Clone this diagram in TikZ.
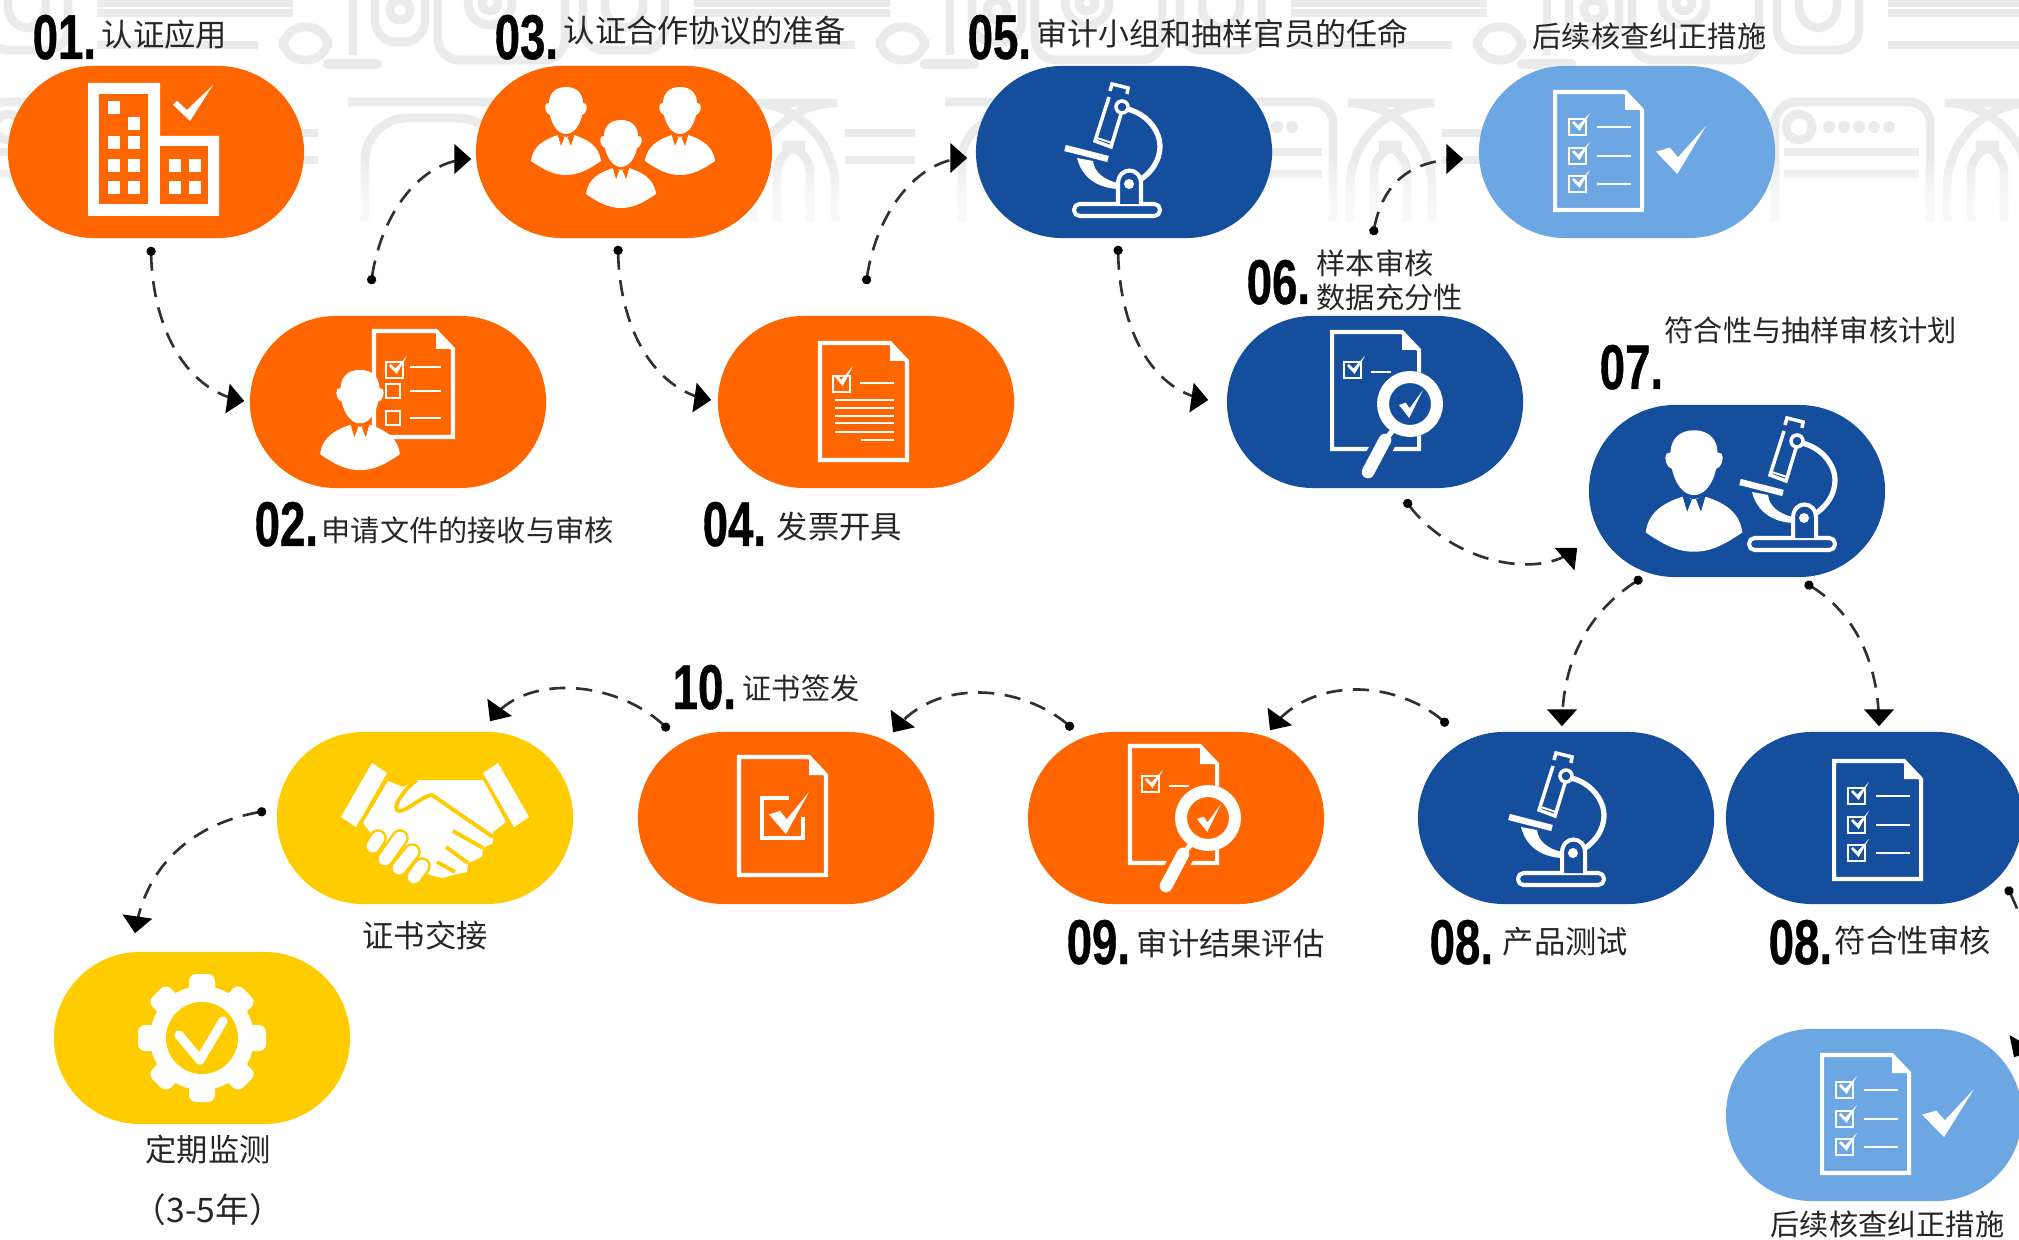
\documentclass[tikz,border=0pt]{standalone}
\usepackage{fontspec}
\setmainfont{Noto Sans CJK SC}
\newfontfamily\cjk{Noto Sans CJK SC}
\newfontfamily\numfont[FakeStretch=0.72,FakeBold=0.6]{Liberation Sans}
\usetikzlibrary{arrows.meta,bending}
\definecolor{pillorange}{HTML}{FF6600}
\definecolor{pillblue}{HTML}{164E9E}
\definecolor{pillsky}{HTML}{6CA6E3}
\definecolor{pillyellow}{HTML}{FFCC00}
\definecolor{washgrey}{HTML}{EBEBEB}
\definecolor{flowgrey}{HTML}{352E2E}
\tikzset{
	pill/.style={rectangle,rounded corners=0.86cm,minimum width=2.96cm,minimum height=1.72cm,inner sep=0pt},
	icon/.style={draw=white,line width=1.15pt,line join=miter},
	hair/.style={draw=white,line width=0.55pt},
	wash/.style={draw=washgrey,line width=2.5pt,rounded corners=6pt},
	flow/.style={draw=flowgrey,line width=0.75pt,dash pattern=on 4.6pt off 3pt,{Circle[length=2.6pt,black]}-{Triangle[length=4.8pt,width=8.4pt,black,flex=0]}},
	numlabel/.style={anchor=base west,inner sep=0pt,font=\numfont\bfseries\fontsize{18}{18}\selectfont},
	txtlabel/.style={anchor=west,inner sep=0pt,text height=7.7pt,text depth=1pt,text=black!85,font=\cjk\fontsize{8.3}{10}\selectfont},
	txtlarge/.style={txtlabel,font=\cjk\fontsize{8.9}{10}\selectfont},
	midlabel/.style={txtlarge,anchor=center}
}
\newcommand{\tickmark}[4]{\fill[white,shift={(#1,#2)},xscale=#3,yscale=#4] (-1,0.1) -- (-0.8,-0.12) -- (-0.3,0.39) -- (1,-1) -- (-0.15,1) -- cycle;}
\newcommand{\bigtick}[4]{\fill[white,shift={(#1,#2)},xscale=#3,yscale=#4] (-1,0.07) -- (-0.45,-0.1) -- (-0.12,0.3) -- (1,-1) -- (-0.15,1) -- cycle;}
\newcommand{\tickbox}[2]{\draw[hair,line width=0.7pt] (#1,#2) rectangle +(17,16); \tickmark{#1+12}{#2+3}{9}{9}}
\newcommand{\pagebox}[2]{\draw[icon] (0,0) -- (#1-17,0) -- (#1,18) -- (#1,#2) -- (0,#2) -- cycle; \fill[white] (#1-17,0) -- (#1,18) -- (#1-17,18) -- cycle;}
\newcommand{\checklist}[2]{\begin{scope}[shift={(#1,#2)}]
	\pagebox{87}{118}
	\foreach \yy in {27,56,84} {\tickbox{14}{\yy} \draw[hair,line width=0.7pt] (42,\yy+8) -- (76,\yy+8);}
\end{scope}}
\newcommand{\magdoc}[3]{\begin{scope}[shift={(#1,#2)}]
	\pagebox{87}{117}
	\tickbox{12}{30}
	\draw[hair,line width=0.7pt] (39,40) -- (59,40);
	\fill[#3] (78,72) circle (33);
	\draw[#3,line width=6.5pt] (56,103) -- (43,128);
	\draw[white,line width=3.4pt] (78,72) circle (27);
	\draw[white,line width=1.5pt] (62,97) -- (53,108);
	\draw[white,line width=3.6pt,line cap=round] (53,108) -- (36,140);
	\bigtick{79}{72}{12}{14}
\end{scope}}
\newcommand{\personicon}[4]{\begin{scope}[shift={(#1,#2)},scale=#3]
	\fill[white] (0,-44) .. controls (12,-44) and (17,-36) .. (17,-28) -- (20,-27) .. controls (22,-24) and (20,-17) .. (16,-16) .. controls (14,-6) and (8,3) .. (0,3) .. controls (-8,3) and (-14,-6) .. (-16,-16) .. controls (-20,-17) and (-22,-24) .. (-20,-27) -- (-17,-28) .. controls (-17,-36) and (-12,-44) .. (0,-44) -- cycle;
	\fill[white] (-35,30) .. controls (-33,14) and (-20,8) .. (-8,4) -- (0,6) -- (8,4) .. controls (20,8) and (33,14) .. (35,30) .. controls (22,39) and (12,44) .. (0,44) .. controls (-12,44) and (-22,39) .. (-35,30) -- cycle;
	\fill[#4] (-8.5,3) -- (-5,15) -- (-1.5,6) -- cycle;
	\fill[#4] (8.5,3) -- (5,15) -- (1.5,6) -- cycle;
\end{scope}}
\newcommand{\microscope}[3]{\begin{scope}[shift={(#1,#2)}]
	\draw[icon,line join=round,rounded corners=1.6pt] (-50,52) -- (36,52) -- (36,64) -- (-50,64) -- cycle;
	\draw[icon,line width=1pt] (-15,-55) -- (-29,-11) -- (-13,-5) -- (-3,-38);
	\draw[icon,line width=1pt] (-14,-61) -- (-12,-68) -- (4,-64) -- (3,-58);
	\draw[hair] (-27,-14) -- (-12,-9);
	\draw[icon,line width=1.5pt] (3,-43) .. controls (24,-38) and (36,-20) .. (36,-6) .. controls (36,8) and (28,20) .. (16,28);
	\draw[white,line width=1.8pt] (-59,-4) -- (-16,7);
	\fill[white] (-47,6) -- (-31,9) .. controls (-30,20) and (-20,28) .. (-6,31) -- (-6,37) .. controls (-26,36) and (-42,26) .. (-47,6) -- cycle;
	\fill[#3] (-6,52) -- (-6,32) .. controls (-6,14) and (17,14) .. (17,32) -- (17,52) -- cycle;
	\draw[icon] (-6,52) -- (-6,32) .. controls (-6,14) and (17,14) .. (17,32) -- (17,52);
	\fill[white] (5,32) circle (5);
	\fill[#3] (-2,-45) circle (7);
	\draw[icon,line width=1pt] (-2,-45) circle (6);
\end{scope}}
\newcommand{\washmotif}[1]{\begin{scope}[shift={(#1,0)}]
	\draw[wash,rounded corners=0pt] (28,-5) -- (28,55);
	\draw[wash,line cap=round,line width=3pt] (3,64) -- (52,64);
	\draw[wash] (50,-5) -- (50,42) -- (100,42) -- (100,-5);
	\draw[wash] (75,10) circle (10);
	\draw[wash] (113,-5) -- (113,60) -- (240,60) -- (240,-5);
	\draw[wash] (165,3) circle (22);
	\draw[wash] (165,3) circle (8);
	\draw[wash] (258,-5) -- (258,50) -- (340,50) -- (340,-5);
	\draw[wash] (280,-5) -- (280,28) -- (318,28) -- (318,-5);
	\draw[wash,rounded corners=0pt] (369,3) -- (565,3) (369,13) -- (565,13) (369,45) -- (530,45);
	\draw[wash] (555,27) rectangle (600,60);
	\draw[wash,rounded corners=12pt] (23,102) -- (170,102) (40,222) -- (40,118) -- (175,118) -- (175,222);
	\draw[wash,rounded corners=0pt] (190,125) -- (190,222);
	\draw[wash] (256,222) -- (256,102) -- (411,102) -- (411,222);
	\draw[wash] (280,127) circle (13);
	\foreach \dd in {310,325,340,355,370} {\fill[washgrey] (\dd,127) circle (6);}
	\draw[wash,rounded corners=0pt] (265,152) -- (400,152) (265,174) -- (400,174);
	\draw[wash,rounded corners=24pt] (428,222) -- (428,103) -- (510,103) -- (510,222);
	\draw[wash,rounded corners=8pt] (452,222) -- (452,145) -- (485,145) -- (485,222);
	\draw[wash,rounded corners=0pt] (520,160) -- (590,160) (520,133) -- (590,133);
\end{scope}}
\begin{document}
\begin{tikzpicture}[x=0.01cm,y=-0.01cm]
\useasboundingbox (0,0) rectangle (2019,1240);
\clip (0,0) rectangle (2019,1240);
\foreach \xx in {-272,325,922,1519} {\washmotif{\xx}}
\foreach \k in {0,...,6} {\fill[white,opacity=0.22] (-5,165+\k*9) rectangle (2024,222);}
\fill[white] (-5,222) rectangle (2024,240);

\node[pill,fill=pillorange] (n01) at (156,152) {};
\node[pill,fill=pillorange] (n02) at (398,402) {};
\node[pill,fill=pillorange] (n03) at (624,152) {};
\node[pill,fill=pillorange] (n04) at (866,402) {};
\node[pill,fill=pillblue] (n05) at (1124,152) {};
\node[pill,fill=pillblue] (n06) at (1375,402) {};
\node[pill,fill=pillblue] (n07) at (1737,491) {};
\node[pill,fill=pillsky] (fix1) at (1627,152) {};
\node[pill,fill=pillblue] (n08a) at (1566,818) {};
\node[pill,fill=pillblue] (n08b) at (1874,818) {};
\node[pill,fill=pillsky] (fix2) at (1874,1115) {};
\node[pill,fill=pillorange] (n09) at (1176,818) {};
\node[pill,fill=pillorange] (n10) at (786,818) {};
\node[pill,fill=pillyellow] (hand) at (425,818) {};
\node[pill,fill=pillyellow] (gear) at (202,1038) {};

\draw[flow] ([shift={(-5,8)}]n01.south) .. controls +(0,85) and +(-55,-8) .. ([shift={(-5,-1)}]n02.west);
\draw[flow] ([shift={(-27,-31)}]n02.north) .. controls +(8,-70) and +(-50,0) .. ([shift={(-4,7)}]n03.west);
\draw[flow] ([shift={(-6,7)}]n03.south) .. controls +(0,85) and +(-55,-8) .. ([shift={(-6,-2)}]n04.west);
\draw[flow] ([shift={(0,-31)}]n04.north) .. controls +(8,-70) and +(-50,0) .. ([shift={(-8,6)}]n05.west);
\draw[flow] ([shift={(-6,7)}]n05.south) .. controls +(0,85) and +(-55,-8) .. ([shift={(-18,-2)}]n06.west);
\draw[flow] ([shift={(-2,-80)}]n06.north) .. controls +(8,-55) and +(-50,0) .. ([shift={(-15,7)}]fix1.west);
\draw[flow] ([shift={(30,11)}]n06.south) .. controls +(40,60) and +(-40,35) .. ([shift={(-11,57)}]n07.west);
\draw[flow] ([shift={(-95,0)}]n07.south) .. controls +(-50,30) and +(0,-70) .. ([shift={(-4,-5)}]n08a.north);
\draw[flow] ([shift={(68,5)}]n07.south) .. controls +(45,25) and +(0,-70) .. ([shift={(5,-5)}]n08b.north);
\draw[flow] ([shift={(133,-18)}]n08b.south) .. controls +(25,50) and +(35,-60) .. ([shift={(140,29)}]fix2.north);
\draw[flow] ([shift={(-118,-6)}]n08a.north) .. controls +(-48,-46) and +(40,-56) .. ([shift={(94,-1)}]n09.north);
\draw[flow] ([shift={(-103,-2)}]n09.north) .. controls +(-48,-46) and +(40,-56) .. ([shift={(107,1)}]n10.north);
\draw[flow] ([shift={(-117,-1)}]n10.north) .. controls +(-48,-50) and +(35,-50) .. ([shift={(65,-10)}]hand.north);
\draw[flow] ([shift={(-10,-7)}]hand.west) .. controls +(-70,10) and +(10,-70) .. ([shift={(-67,-18)}]gear.north);

\node[numlabel] (num01) at (32,59) {01.};
\node[txtlarge] (txt01) at (101,35) {认证应用};
\node[numlabel] (num02) at (254,546) {02.};
\node[txtlabel] (txt02) at (321,530) {申请文件的接收与审核};
\node[numlabel] (num03) at (494,59) {03.};
\node[txtlarge] (txt03) at (563,31) {认证合作协议的准备};
\node[numlabel] (num04) at (702,546) {04.};
\node[txtlarge] (txt04) at (776,527) {发票开具};
\node[numlabel] (num05) at (967,59) {05.};
\node[txtlabel,font=\cjk\fontsize{8.8}{10}\selectfont] (txt05) at (1036,34) {审计小组和抽样官员的任命};
\node[txtlabel] (txtfix1) at (1532,36) {后续核查纠正措施};
\node[numlabel] (num06) at (1246,304) {06.};
\node[anchor=west,inner sep=0pt,align=left,text=black!85,font=\cjk\fontsize{8.3}{9.7}\selectfont] (txt06) at (1316,280) {样本审核\\数据充分性};
\node[numlabel] (num07) at (1599,389) {07.};
\node[txtlabel] (txt07) at (1664,330) {符合性与抽样审核计划};
\node[numlabel] (num08a) at (1429,964) {08.};
\node[txtlarge] (txt08a) at (1502,942) {产品测试};
\node[numlabel] (num08b) at (1768,964) {08.};
\node[txtlarge] (txt08b) at (1834,941) {符合性审核};
\node[numlabel] (num09) at (1066,964) {09.};
\node[txtlarge] (txt09) at (1136,944) {审计结果评估};
\node[numlabel] (num10) at (672,709) {10.};
\node[txtlabel] (txt10) at (742,688) {证书签发};
\node[midlabel] (txthand) at (425,936) {证书交接};
\node[midlabel] (txtgear) at (208,1150) {定期监测};
\node[midlabel,font=\cjk\fontsize{9.6}{10}\selectfont] (txtterm) at (208,1211) {（3-5年）};
\node[txtlabel] (txtfix2) at (1770,1224) {后续核查纠正措施};

\begin{scope}
	\fill[white] (88,83) -- (160,83) -- (160,136) -- (219,136) -- (219,216) -- (88,216) -- cycle;
	\fill[pillorange] (99,94) rectangle (148,204);
	\fill[pillorange] (160,146) rectangle (208,204);
	\foreach \wx/\wy in {108/101,128/117,108/136,128/136,108/159,128/159,108/181,128/181,169/159,189/159,169/181,189/181} {\fill[white] (\wx,\wy) rectangle +(12,13);}
	\tickmark{193}{103}{20}{18}
\end{scope}
\begin{scope}[shift={(374,331)}]
	\pagebox{79}{106}
	\tickbox{12}{31}
	\draw[hair,line width=0.7pt] (36,36) -- (67,36) (36,60) -- (67,60) (36,87) -- (67,87);
	\draw[hair,line width=0.7pt] (12,53) rectangle +(14,14) (12,80) rectangle +(14,14);
\end{scope}
\personicon{360}{420}{1.14}{pillorange}
\personicon{566}{131}{1}{pillorange}
\personicon{680}{131}{1}{pillorange}
\personicon{621}{164}{1}{pillorange}
\begin{scope}[shift={(820,343)}]
	\pagebox{87}{117}
	\draw[hair,line width=0.7pt] (13,33) rectangle +(17,16);
	\tickmark{24}{33}{9}{10}
	\draw[hair,line width=0.7pt] (40,40) -- (74,40);
	\foreach \yy in {57,65,73,80,89} {\draw[hair] (15,\yy) -- (74,\yy);}
	\draw[hair] (41,97) -- (74,97);
\end{scope}
\microscope{1124}{152}{pillblue}
\magdoc{1332}{332}{pillblue}
\checklist{1555}{92}
\bigtick{1681}{150}{25}{24}
\personicon{1694}{491}{1.38}{pillblue}
\microscope{1799}{486}{pillblue}
\microscope{1568}{821}{pillblue}
\checklist{1834}{761}
\checklist{1822}{1055}
\bigtick{1948}{1113}{26}{24}
\magdoc{1130}{746}{pillorange}
\begin{scope}[shift={(739,757)}]
	\pagebox{87}{118}
	\draw[icon] (37,81) -- (23,81) -- (23,41) -- (50,41);
	\draw[icon] (23,81) -- (64,81) -- (64,60);
	\bigtick{50}{56}{20}{21}
\end{scope}
\begin{scope}
	\fill[white] (372,763) -- (387,773) -- (356,827) -- (341,817) -- cycle;
	\fill[white] (498,763) -- (529,817) -- (514,827) -- (483,773) -- cycle;
	\fill[white] (388,781) -- (403,787) -- (417,780) -- (483,780) -- (506,822) -- (493,832) -- (493,843) -- (483,848) -- (482,857) -- (468,863) -- (467,872) -- (453,875) -- (443,878) -- (430,875) -- (420,867) -- (370,832) -- (363,823) -- cycle;
	\foreach \ax/\ay/\bx/\by in {373/846/378/838,385/859/400/838,399/868/412/852,414/877/422/866} {
		\draw[pillyellow,line width=5pt,line cap=round] (\ax,\ay) -- (\bx,\by);
		\draw[white,line width=3.6pt,line cap=round] (\ax,\ay) -- (\bx,\by);
	}
	\draw[pillyellow,line width=1.1pt] (493,837) -- (432,795) .. controls (420,797) and (412,808) .. (400,811) .. controls (395,812) and (395,805) .. (400,798) .. controls (405,790) and (410,785) .. (417,780);
	\draw[pillyellow,line width=1.1pt] (453,831) -- (483,848) (446,847) -- (468,863) (437,862) -- (455,872);
\end{scope}
\begin{scope}[shift={(202,1038)}]
	\foreach \a in {0,45,...,315} {\fill[white,rounded corners=2pt,rotate=\a] (-13,-64) rectangle (13,-40);}
	\fill[white] (0,0) circle (52);
	\fill[pillyellow] (0,0) circle (36);
	\draw[white,line width=2.6pt,line cap=round,line join=round] (-23,-3) -- (-2,22) -- (21,-17);
\end{scope}
\end{tikzpicture}
\end{document}
